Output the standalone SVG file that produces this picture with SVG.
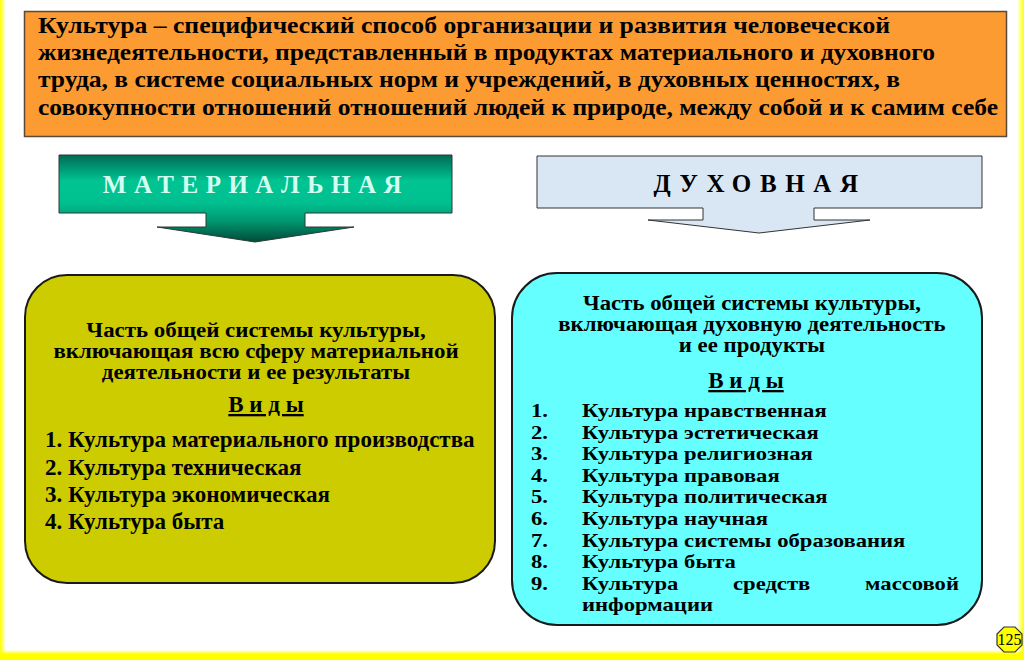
<svg xmlns="http://www.w3.org/2000/svg" width="1024" height="660" viewBox="0 0 1024 660">
  <defs>
    <linearGradient id="gMat" x1="0" y1="155" x2="0" y2="242" gradientUnits="userSpaceOnUse">
      <stop offset="0" stop-color="#006a55"/>
      <stop offset="0.3" stop-color="#00c493"/>
      <stop offset="0.55" stop-color="#00c090"/>
      <stop offset="0.75" stop-color="#009a72"/>
      <stop offset="1" stop-color="#004a38"/>
    </linearGradient>
    <linearGradient id="gLeft" x1="0" y1="0" x2="1" y2="0">
      <stop offset="0" stop-color="#ffff00"/>
      <stop offset="1" stop-color="#ffff00" stop-opacity="0"/>
    </linearGradient>
    <linearGradient id="gRight" x1="1" y1="0" x2="0" y2="0">
      <stop offset="0" stop-color="#ffff00"/>
      <stop offset="1" stop-color="#ffff00" stop-opacity="0"/>
    </linearGradient>
    <linearGradient id="gBottom" x1="0" y1="1" x2="0" y2="0">
      <stop offset="0" stop-color="#ffff00"/>
      <stop offset="0.6" stop-color="#ffff00"/>
      <stop offset="1" stop-color="#ffff00" stop-opacity="0"/>
    </linearGradient>
  </defs>
  <style>
    .t { font-family: "Liberation Serif", "Times New Roman", serif; font-weight: bold; fill: #000; }
    .hdr { font-size: 23px; }
    .body { font-size: 23px; }
    .sub { font-size: 20px; }
    .list { font-size: 19.2px; }
    .mid { text-anchor: middle; }
    .box { stroke: #1a1a1a; stroke-width: 2; }
    .arr { font-size: 25px; }
  </style>

  <rect x="0" y="0" width="1024" height="660" fill="#ffffff"/>
  <rect x="0" y="0" width="6" height="660" fill="url(#gLeft)"/>
  <rect x="1017" y="0" width="7" height="660" fill="url(#gRight)"/>
  <rect x="0" y="650" width="1024" height="10" fill="url(#gBottom)"/>

  <g id="definition">
    <rect x="24.5" y="11.5" width="982" height="125" fill="#fb9b32" stroke="#5a4838" stroke-width="1.5"/>
    <text class="t hdr" x="38" y="33" textLength="852" lengthAdjust="spacingAndGlyphs">Культура – специфический способ организации  и развития человеческой</text>
    <text class="t hdr" x="38" y="60" textLength="897" lengthAdjust="spacingAndGlyphs">жизнедеятельности, представленный в продуктах материального и духовного</text>
    <text class="t hdr" x="38" y="87" textLength="862" lengthAdjust="spacingAndGlyphs">труда, в системе социальных норм и учреждений, в духовных ценностях, в</text>
    <text class="t hdr" x="38" y="115" textLength="960" lengthAdjust="spacingAndGlyphs">совокупности отношений отношений людей к природе, между собой и к самим себе</text>
  </g>

  <g id="material-arrow">
    <path d="M59,155 H452 V213 H305 V227 H354 L255,242 L157,227 H206 V213 H59 Z" fill="url(#gMat)" stroke="#2a3a33" stroke-width="1"/>
    <text class="t arr mid" x="256" y="193" style="fill:#d2fff0" letter-spacing="7.5">МАТЕРИАЛЬНАЯ</text>
  </g>

  <g id="spiritual-arrow">
    <path d="M537,156 H982 V208 H814 V220 H870 L759,233 L648,220 H703 V208 H537 Z" fill="#d8e7f3" stroke="#333" stroke-width="1"/>
    <text class="t arr mid" x="760" y="192" letter-spacing="8.6">ДУХОВНАЯ</text>
  </g>

  <g id="material-box">
    <rect class="box" x="25" y="275" width="470" height="308" rx="42" ry="42" fill="#cccc00"/>
    <g class="t sub mid" transform="matrix(1.145 0 0 1 0 0)">
      <text x="223.6" y="337">Часть общей системы культуры,</text>
      <text x="223.6" y="358">включающая всю сферу материальной</text>
      <text x="223.6" y="379">деятельности и  ее результаты</text>
    </g>
    <text class="t body mid" x="266" y="412" text-decoration="underline">В и д ы </text>
    <text class="t body" x="45" y="447">1.  Культура материального производства</text>
    <text class="t body" x="45" y="475">2. Культура техническая</text>
    <text class="t body" x="45" y="502">3. Культура экономическая</text>
    <text class="t body" x="45" y="529">4. Культура быта</text>
  </g>

  <g id="spiritual-box">
    <rect class="box" x="512" y="273" width="470" height="352" rx="45" ry="45" fill="#66ffff"/>
    <g class="t sub mid" transform="matrix(1.14 0 0 1 0 0)">
      <text x="659.6" y="310">Часть общей системы культуры,</text>
      <text x="659.6" y="331">включающая духовную деятельность</text>
      <text x="659.6" y="352">и ее продукты</text>
    </g>
    <text class="t body mid" x="746" y="388" text-decoration="underline">В и д ы </text>
    <g class="t list" transform="matrix(1.18 0 0 1 0 0)">
      <text x="450" y="417">1.</text><text x="493.2" y="417">Культура нравственная</text>
      <text x="450" y="439">2.</text><text x="493.2" y="439">Культура эстетическая</text>
      <text x="450" y="460">3.</text><text x="493.2" y="460">Культура религиозная</text>
      <text x="450" y="482">4.</text><text x="493.2" y="482">Культура правовая</text>
      <text x="450" y="503">5.</text><text x="493.2" y="503">Культура политическая</text>
      <text x="450" y="525">6.</text><text x="493.2" y="525">Культура научная</text>
      <text x="450" y="547">7.</text><text x="493.2" y="547">Культура системы образования</text>
      <text x="450" y="568">8.</text><text x="493.2" y="568">Культура быта</text>
      <text x="450" y="590">9.</text><text x="493.2" y="590">Культура</text>
      <text x="621.2" y="590">средств</text>
      <text x="812.7" y="590" text-anchor="end">массовой</text>
      <text x="493.2" y="611">информации</text>
    </g>
  </g>

  <g id="page-number">
    <polygon points="1004,627 1015,627 1022,634 1022,645 1015,652 1004,652 997,645 997,634" fill="#ffff00" stroke="#333" stroke-width="1.2"/>
    <text x="1009.5" y="645" text-anchor="middle" font-family="Liberation Serif, serif" font-size="16" fill="#000">125</text>
  </g>
</svg>
